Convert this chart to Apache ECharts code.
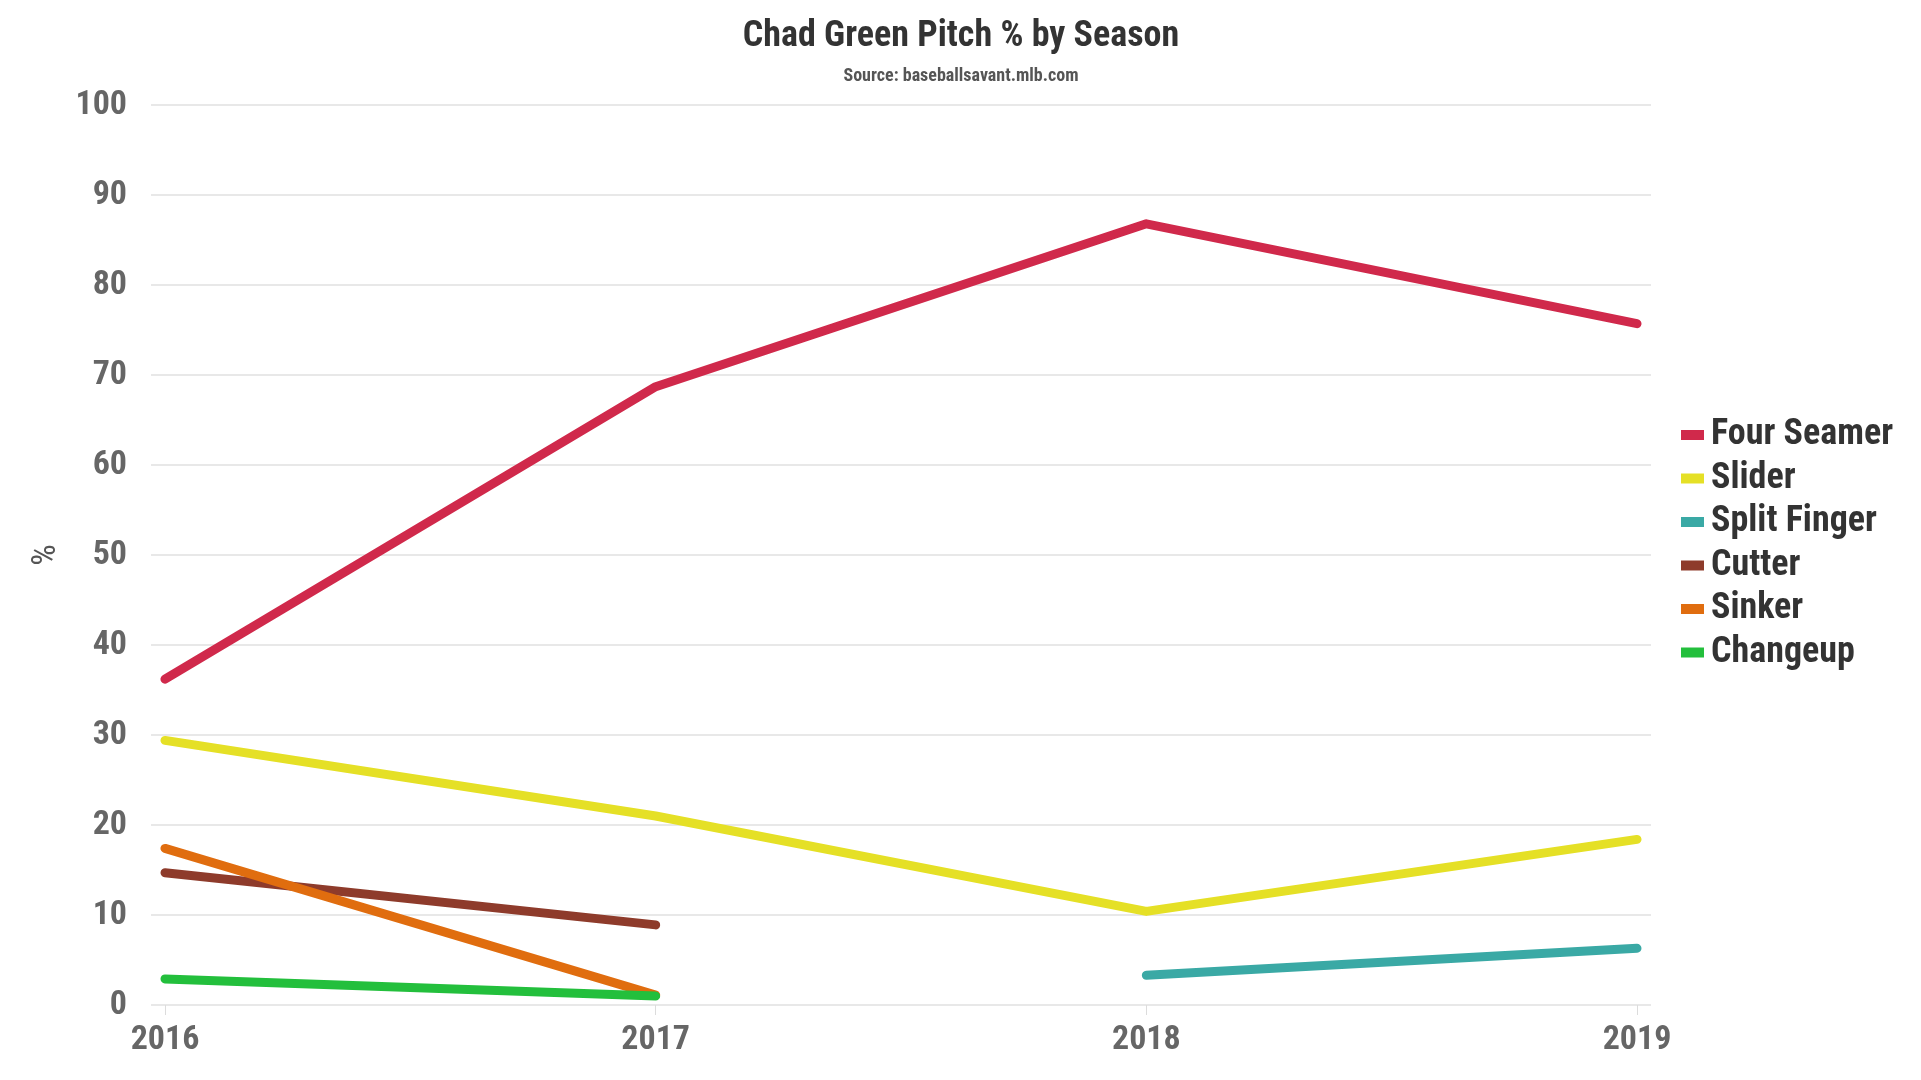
<!DOCTYPE html>
<html>
<head>
<meta charset="utf-8">
<script src="https://cdn.jsdelivr.net/npm/echarts@6/dist/echarts.min.js"></script>
<style>
html,body{margin:0;padding:0;background:#fff;}
#chart{width:1921px;height:1080px;}
</style>
</head>
<body>
<div id="chart"></div>
<script>
const seasons = ['2016', '2017', '2018', '2019'];
const fourSeamer = [36.2, 68.7, 86.8, 75.7];
const slider = [29.4, 21.0, 10.4, 18.4];
const splitFinger = [null, null, 3.3, 6.3];
const cutter = [14.7, 8.9, null, null];
const sinker = [17.4, 1.1, null, null];
const changeup = [2.9, 1.0, null, null];
const yTicks = { min: 0, max: 100, interval: 10 };

const FONT = '"Roboto Condensed", Roboto, "Noto Sans", sans-serif';

const seriesDefs = [
  { name: 'Four Seamer', data: fourSeamer, color: '#d0294b' },
  { name: 'Slider', data: slider, color: '#e5e026' },
  { name: 'Split Finger', data: splitFinger, color: '#3aa9a5' },
  { name: 'Cutter', data: cutter, color: '#8e3b2b' },
  { name: 'Sinker', data: sinker, color: '#e06d0f' },
  { name: 'Changeup', data: changeup, color: '#23bf3c' }
];

const chart = echarts.init(document.getElementById('chart'));
chart.setOption({
  animation: false,
  backgroundColor: '#ffffff',
  textStyle: { fontFamily: FONT },
  title: {
    text: 'Chad Green Pitch % by Season',
    subtext: 'Source: baseballsavant.mlb.com',
    left: 956,
    textAlign: 'center',
    top: 14,
    itemGap: 12,
    textStyle: { fontFamily: FONT, fontSize: 36, fontWeight: 'bold', color: '#333333' },
    subtextStyle: { fontFamily: FONT, fontSize: 18, fontWeight: 'bold', color: '#555555' }
  },
  legend: {
    orient: 'vertical',
    left: 1676,
    top: 412,
    itemWidth: 23,
    itemHeight: 10,
    itemGap: 7.5,
    icon: 'rect',
    textStyle: { fontFamily: FONT, fontSize: 36, fontWeight: 'bold', color: '#333333', padding: [0, 0, 0, 2] },
    data: seriesDefs.map(s => s.name)
  },
  grid: [
    { left: 151, right: 270, top: 105, bottom: 75 },
    { left: 165, right: 284, top: 105, bottom: 75 }
  ],
  xAxis: [
    { type: 'category', gridIndex: 0, data: seasons, show: false, boundaryGap: false },
    {
      type: 'category', gridIndex: 1, data: seasons, boundaryGap: false,
      axisLine: { show: false },
      axisTick: { show: true, alignWithLabel: true, length: 10, lineStyle: { color: '#dcdcdc', width: 1 } },
      axisLabel: { fontFamily: FONT, fontSize: 34, fontWeight: 'bold', color: '#666666', margin: 18 },
      splitLine: { show: false }
    }
  ],
  yAxis: [
    {
      type: 'value', gridIndex: 0, min: yTicks.min, max: yTicks.max, interval: yTicks.interval,
      name: '%', nameLocation: 'middle', nameGap: 88, nameRotate: 90,
      nameTextStyle: { fontFamily: FONT, fontSize: 34, fontWeight: 'normal', color: '#555555' },
      axisLine: { show: false },
      axisTick: { show: false },
      axisLabel: { fontFamily: FONT, fontSize: 34, fontWeight: 'bold', color: '#666666', margin: 24 },
      splitLine: { show: true, lineStyle: { color: '#e8e8e8', width: 2 } }
    },
    {
      type: 'value', gridIndex: 1, min: yTicks.min, max: yTicks.max, interval: yTicks.interval,
      show: false, splitLine: { show: false }
    }
  ],
  series: seriesDefs.map(s => ({
    name: s.name,
    type: 'line',
    xAxisIndex: 1,
    yAxisIndex: 1,
    data: s.data,
    showSymbol: false,
    symbol: 'none',
    connectNulls: false,
    color: s.color,
    lineStyle: { color: s.color, width: 9, cap: 'round', join: 'round' },
    emphasis: { disabled: true }
  }))
});
</script>
</body>
</html>
